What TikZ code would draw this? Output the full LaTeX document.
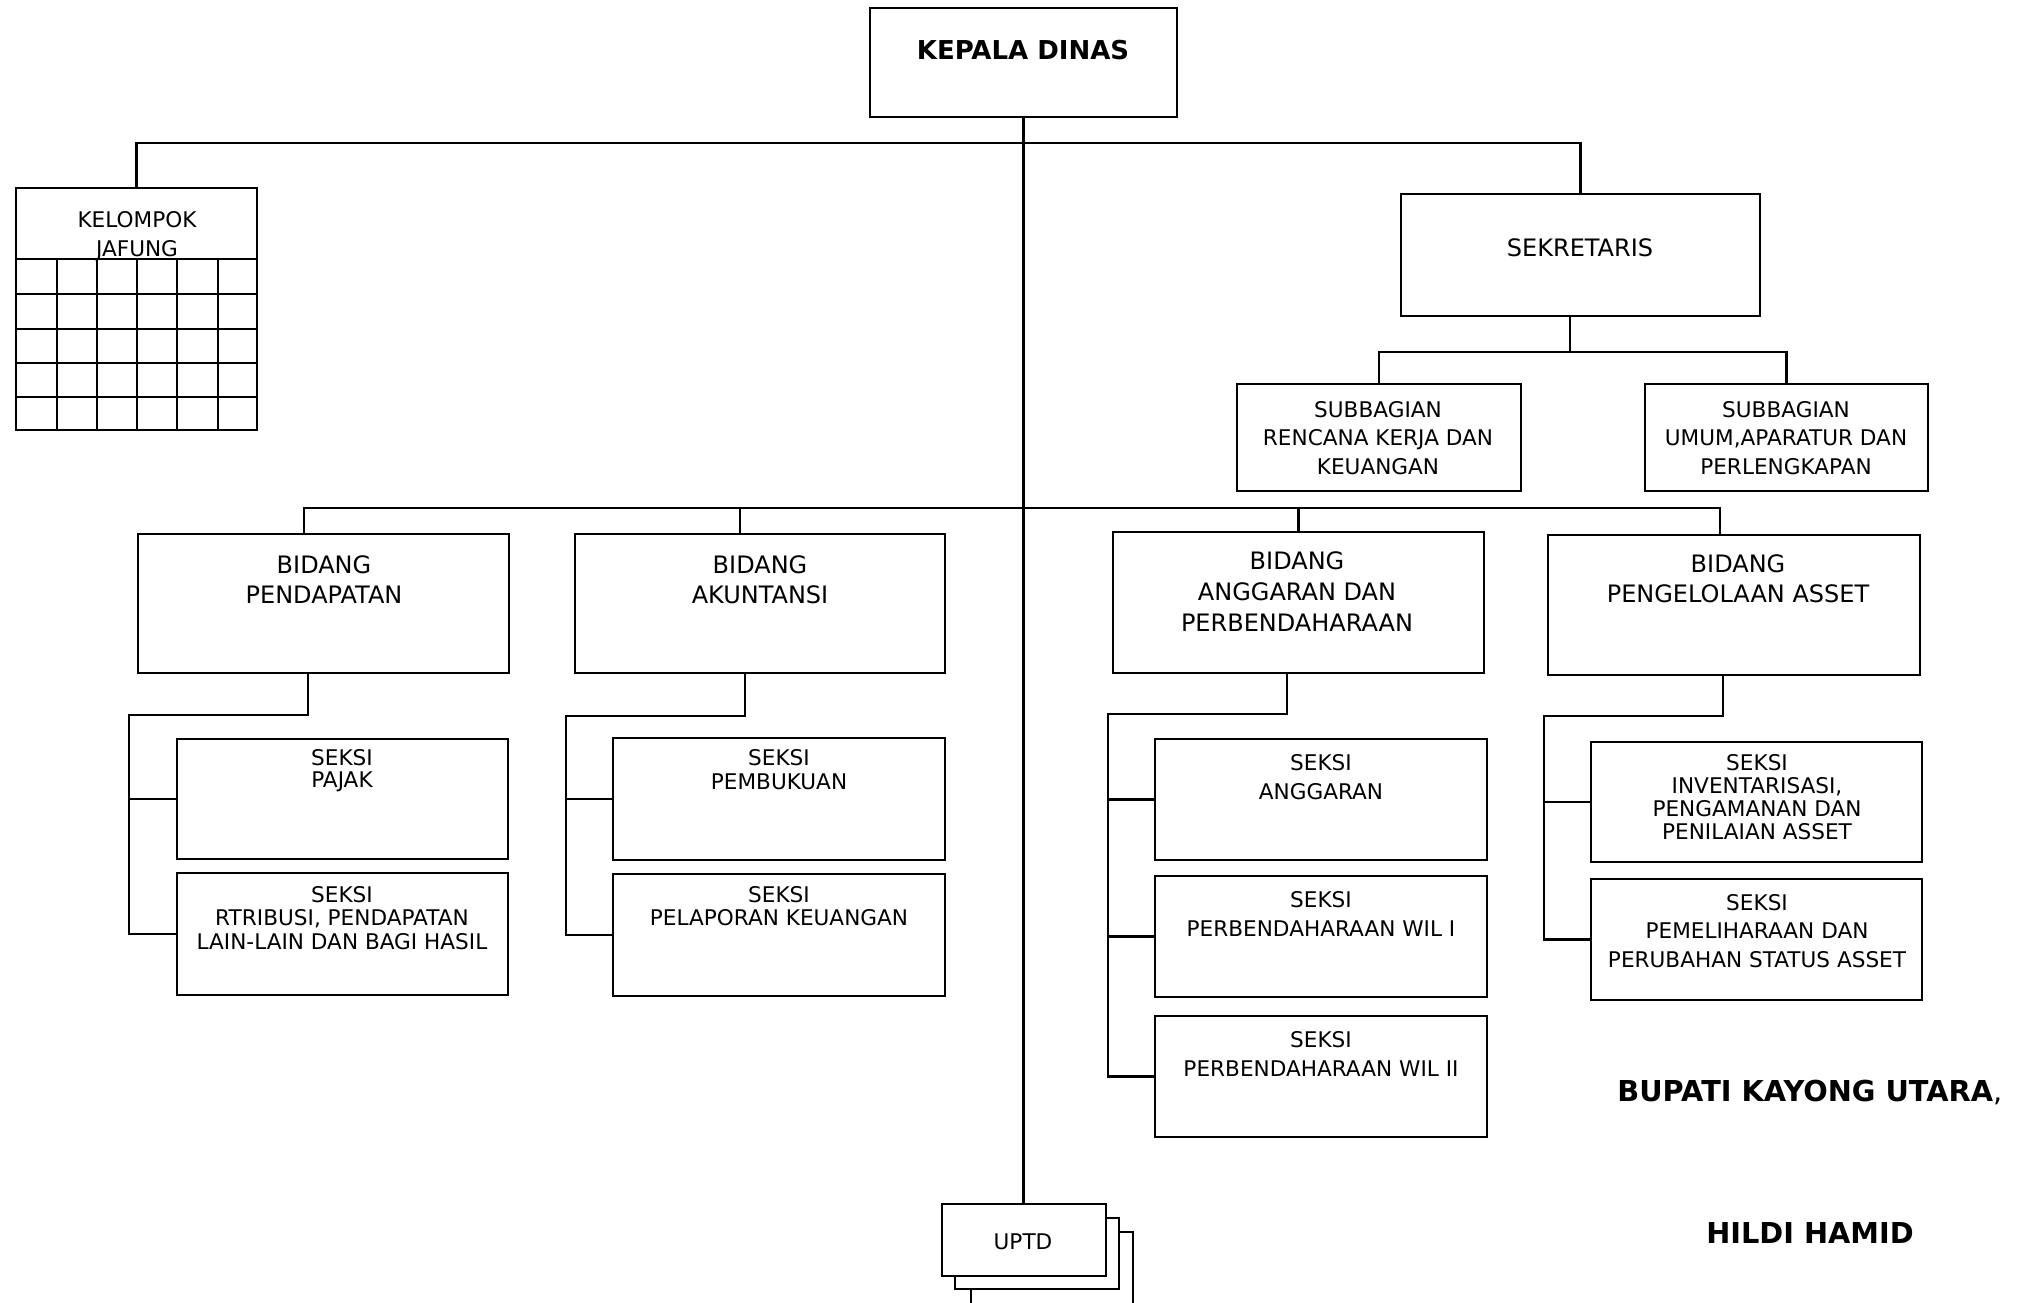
\documentclass[tikz,border=0pt]{standalone}
\usepackage{fontspec}
\setmainfont{DejaVu Sans}
\usetikzlibrary{fit}

\begin{document}
\begin{tikzpicture}
[x=0.5pt,y=-0.5pt,%
  box/.style={draw,line width=1.2pt,inner sep=0pt,fill=white},%
  link/.style={-,line width=1.1pt},%
  lbl/.style={align=center,inner sep=0pt,font=\fontsize{10.8}{#1}\selectfont},%
  lbl/.default=11.5,%
  head/.style={align=center,inner sep=0pt,font=\fontsize{12}{#1}\selectfont},%
  head/.default=15,%
  sign/.style={inner sep=0pt,font=\fontsize{14.4}{17}\selectfont}]
\useasboundingbox (0,0) rectangle (2025,1302);
\node[box,fit={(870,8) (1177,117)}] (kepala) {};
\node[inner sep=0pt,font=\fontsize{13}{15}\selectfont\bfseries] (t-kepala) at (1023,50) {KEPALA DINAS};
\node[box,fit={(16,188) (257,430)}] (kelompok) {};
\node[lbl=14.5] (t-kelompok) at (137,236) {KELOMPOK\\JAFUNG};
\foreach \y in {259,294,329,363,397}
  \draw[line width=1.1pt] (16,\y) -- (257,\y);
\foreach \x in {57,97,137,177,218}
  \draw[line width=1.1pt] (\x,259) -- (\x,430);
\node[box,fit={(1401,194) (1760,316)}] (sekretaris) {};
\node[head] (t-sekretaris) at (1580,248) {SEKRETARIS};
\node[box,fit={(1237,384) (1521,491)}] (sub-renja) {};
\node[lbl=14.25] (t-sub-renja) at (1378,438) {SUBBAGIAN\\RENCANA KERJA DAN\\KEUANGAN};
\node[box,fit={(1645,384) (1928,491)}] (sub-umum) {};
\node[lbl=14.25] (t-sub-umum) at (1786,438) {SUBBAGIAN\\UMUM,APARATUR DAN\\PERLENGKAPAN};
\node[box,fit={(138,534) (509,673)}] (bid-pend) {};
\node[head] (t-bid-pend) at (324,580) {BIDANG\\PENDAPATAN};
\node[box,fit={(575,534) (945,673)}] (bid-akun) {};
\node[head] (t-bid-akun) at (760,580) {BIDANG\\AKUNTANSI};
\node[box,fit={(1113,532) (1484,673)}] (bid-angg) {};
\node[head=15.5] (t-bid-angg) at (1297,592) {BIDANG\\ANGGARAN DAN\\PERBENDAHARAAN};
\node[box,fit={(1548,535) (1920,675)}] (bid-aset) {};
\node[head] (t-bid-aset) at (1738,579) {BIDANG\\PENGELOLAAN ASSET};
\node[box,fit={(177,739) (508,859)}] (s-pajak) {};
\node[lbl=11] (t-pajak) at (342,771) {SEKSI\\PAJAK};
\node[box,fit={(177,873) (508,995)}] (s-retri) {};
\node[lbl=11.75] (t-retri) at (342,918) {SEKSI\\RTRIBUSI, PENDAPATAN\\LAIN-LAIN DAN BAGI HASIL};
\node[box,fit={(613,738) (945,860)}] (s-buku) {};
\node[lbl=12] (t-buku) at (779,770) {SEKSI\\PEMBUKUAN};
\node[box,fit={(613,874) (945,996)}] (s-lapor) {};
\node[lbl=11.5] (t-lapor) at (779,906) {SEKSI\\PELAPORAN KEUANGAN};
\node[box,fit={(1155,739) (1487,860)}] (s-angg) {};
\node[lbl=14.5] (t-angg) at (1321,777) {SEKSI\\ANGGARAN};
\node[box,fit={(1155,876) (1487,997)}] (s-wil1) {};
\node[lbl=14.5] (t-wil1) at (1321,914) {SEKSI\\PERBENDAHARAAN WIL I};
\node[box,fit={(1155,1016) (1487,1137)}] (s-wil2) {};
\node[lbl=14.5] (t-wil2) at (1321,1054) {SEKSI\\PERBENDAHARAAN WIL II};
\node[box,fit={(1591,742) (1922,862)}] (s-inv) {};
\node[lbl=11.5] (t-inv) at (1757,797) {SEKSI\\INVENTARISASI,\\PENGAMANAN DAN\\PENILAIAN ASSET};
\node[box,fit={(1591,879) (1922,1000)}] (s-pelih) {};
\node[lbl=14.25] (t-pelih) at (1757,931) {SEKSI\\PEMELIHARAAN DAN\\PERUBAHAN STATUS ASSET};
\node[box,fit={(971,1232) (1133,1320)}] (uptd-c) {};
\node[box,fit={(955,1218) (1119,1289)}] (uptd-b) {};
\node[box,fit={(942,1204) (1106,1276)}] (uptd) {};
\node[lbl] (t-uptd) at (1023,1242) {UPTD};
\node[sign,anchor=west] (bupati) at (1617,1092) {\textbf{BUPATI KAYONG UTARA},};
\node[sign] (hildi) at (1810,1233) {\textbf{HILDI HAMID}};
\coordinate (bus1) at (1023,143);
\coordinate (bus-sek) at (1570,352);
\coordinate (bus2) at (1023,508);
\coordinate (br-pend) at (129,715);
\coordinate (br-akun) at (566,716);
\coordinate (br-angg) at (1108,714);
\coordinate (br-aset) at (1544,716);
\draw[link] (kepala.south) -- (kepala.south |- uptd.north);
\draw[link] (kelompok.north) |- (bus1) -| (sekretaris.north);
\draw[link] (sekretaris.south -| bus-sek) -- (bus-sek);
\draw[link] (sub-renja.north) |- (bus-sek) -| (sub-umum.north);
\draw[link] ([xshift=-9.75pt]bid-pend.north) |- (bus2) -| ([xshift=-7pt]bid-aset.north);
\draw[link] ([xshift=-10pt]bid-akun.north) |- (bus2);
\draw[link] (bid-angg.north) |- (bus2);
\draw[link] ([xshift=-7.75pt]bid-pend.south) |- (br-pend) |- (s-retri.west);
\draw[link] (br-pend |- s-pajak.west) -- (s-pajak.west);
\draw[link] ([xshift=-7.5pt]bid-akun.south) |- (br-akun) |- (s-lapor.west);
\draw[link] (br-akun |- s-buku.west) -- (s-buku.west);
\draw[link] ([xshift=-5.75pt]bid-angg.south) |- (br-angg) |- (s-wil2.west);
\draw[link] (br-angg |- s-angg.west) -- (s-angg.west);
\draw[link] (br-angg |- s-wil1.west) -- (s-wil1.west);
\draw[link] ([xshift=-5.5pt]bid-aset.south) |- (br-aset) |- (s-pelih.west);
\draw[link] (br-aset |- s-inv.west) -- (s-inv.west);
\end{tikzpicture}
\end{document}
